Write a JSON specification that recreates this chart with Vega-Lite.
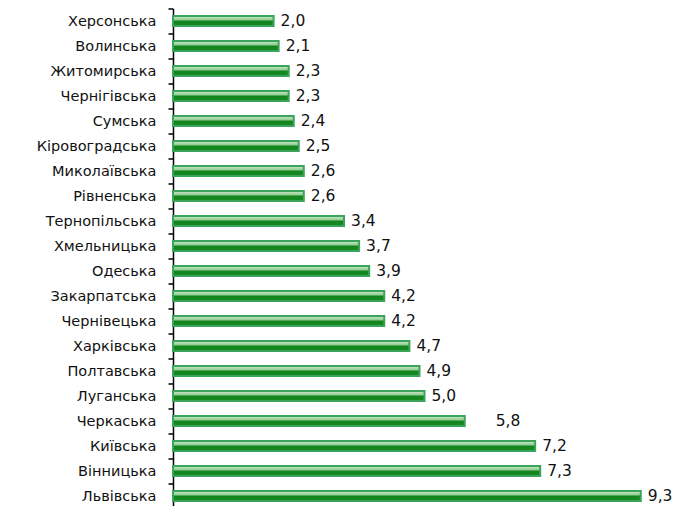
{
  "$schema": "https://vega.github.io/schema/vega-lite/v6.json",
  "autosize": {"type": "none"},
  "padding": {"left": 173, "top": 8.5, "right": 4, "bottom": 0},
  "width": 503,
  "height": 500,
  "background": "white",
  "config": {
    "view": {"stroke": null},
    "locale": {"number": {"decimal": ",", "thousands": " ", "grouping": [3], "currency": ["", ""]}}
  },
  "data": {
    "values": [
      {"region": "Херсонська", "value": 2.0},
      {"region": "Волинська", "value": 2.1},
      {"region": "Житомирська", "value": 2.3},
      {"region": "Чернігівська", "value": 2.3},
      {"region": "Сумська", "value": 2.4},
      {"region": "Кіровоградська", "value": 2.5},
      {"region": "Миколаївська", "value": 2.6},
      {"region": "Рівненська", "value": 2.6},
      {"region": "Тернопільська", "value": 3.4},
      {"region": "Хмельницька", "value": 3.7},
      {"region": "Одеська", "value": 3.9},
      {"region": "Закарпатська", "value": 4.2},
      {"region": "Чернівецька", "value": 4.2},
      {"region": "Харківська", "value": 4.7},
      {"region": "Полтавська", "value": 4.9},
      {"region": "Луганська", "value": 5.0},
      {"region": "Черкаська", "value": 5.8},
      {"region": "Київська", "value": 7.2},
      {"region": "Вінницька", "value": 7.3},
      {"region": "Львівська", "value": 9.3}
    ]
  },
  "encoding": {
    "y": {
      "field": "region",
      "type": "nominal",
      "sort": null,
      "scale": {"paddingInner": 0, "paddingOuter": 0},
      "axis": {
        "title": null,
        "domainColor": "black",
        "domainWidth": 1.5,
        "tickColor": "black",
        "tickWidth": 1.5,
        "tickSize": 5,
        "tickBand": "extent",
        "labelPadding": 12,
        "labelFont": "DejaVu Sans",
        "labelFontSize": 14.5,
        "labelFontWeight": "normal",
        "labelColor": "#111"
      }
    },
    "x": {
      "field": "value",
      "type": "quantitative",
      "scale": {"domain": [0, 10]},
      "axis": null
    }
  },
  "layer": [
    {
      "mark": {
        "type": "bar",
        "size": 10,
        "stroke": "#3ca35c",
        "strokeWidth": 2,
        "fill": {
          "gradient": "linear",
          "x1": 0, "y1": 0, "x2": 0, "y2": 1,
          "stops": [
            {"offset": 0, "color": "#cfe9cf"},
            {"offset": 0.4, "color": "#8fcc8f"},
            {"offset": 0.5, "color": "#14841f"},
            {"offset": 1, "color": "#168a20"}
          ]
        }
      }
    },
    {
      "transform": [{"filter": "datum.region !== 'Черкаська'"}],
      "mark": {"type": "text", "align": "left", "baseline": "middle", "dx": 7, "font": "DejaVu Sans", "fontSize": 15.5, "color": "#111"},
      "encoding": {"text": {"field": "value", "type": "quantitative", "format": ".1f"}}
    },
    {
      "transform": [{"filter": "datum.region === 'Черкаська'"}],
      "mark": {"type": "text", "align": "left", "baseline": "middle", "dx": 31, "font": "DejaVu Sans", "fontSize": 15.5, "color": "#111"},
      "encoding": {"text": {"field": "value", "type": "quantitative", "format": ".1f"}}
    }
  ]
}
